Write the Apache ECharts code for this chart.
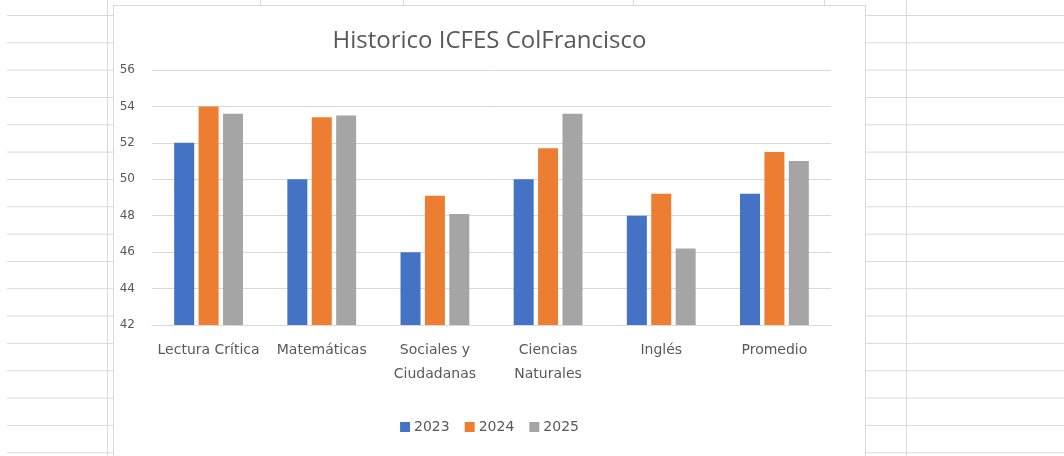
<!DOCTYPE html>
<html>
<head>
<meta charset="utf-8">
<script src="https://cdn.jsdelivr.net/npm/echarts@6/dist/echarts.min.js"></script>
<style>
  html, body { margin: 0; padding: 0; width: 1064px; height: 456px; overflow: hidden; background: #fff; }
  #sheet { position: absolute; left: 7px; top: 0; width: 1057px; height: 456px;
    background-image: linear-gradient(to bottom, #d9d9d9 0, #d9d9d9 1px, transparent 1px);
    background-size: 100% 27.33px; background-position: 0 15px; }
  .vline { position: absolute; top: 0; width: 1px; height: 456px; background: #d9d9d9; }
  #box { position: absolute; left: 113px; top: 5px; width: 753px; height: 460px; box-sizing: border-box;
    border: 1px solid #d9d9d9; background: #fff; }
  #chart { position: absolute; left: 0; top: 0; width: 751px; height: 458px; }
</style>
</head>
<body>
<div id="sheet"></div>
<div class="vline" style="left:107px"></div>
<div class="vline" style="left:260px"></div>
<div class="vline" style="left:403px"></div>
<div class="vline" style="left:633px"></div>
<div class="vline" style="left:824px"></div>
<div class="vline" style="left:906px"></div>
<div id="box"><div id="chart"></div></div>
<script>
const categories = ['Lectura Crítica', 'Matemáticas', 'Sociales y\nCiudadanas', 'Ciencias\nNaturales', 'Inglés', 'Promedio'];
const seriesNames = ['2023', '2024', '2025'];
const values2023 = [52.0, 50.0, 46.0, 50.0, 48.0, 49.2];
const values2024 = [54.0, 53.4, 49.1, 51.7, 49.2, 51.5];
const values2025 = [53.6, 53.5, 48.1, 53.6, 46.2, 51.0];
const colors = ['#4472C4', '#ED7D31', '#A5A5A5'];
const yMin = 42, yMax = 56, yStep = 2;

const labelFont = '"DejaVu Sans", sans-serif';
const titleFont = '"Open Sans", sans-serif';
const chart = echarts.init(document.getElementById('chart'));
const allValues = [values2023, values2024, values2025];
chart.setOption({
  animation: false,
  color: colors,
  textStyle: { fontFamily: labelFont },
  title: {
    text: 'Historico ICFES ColFrancisco',
    left: 'center', top: 18,
    textStyle: { fontFamily: titleFont, fontSize: 24, fontWeight: 'normal', color: '#595959' }
  },
  legend: {
    data: seriesNames,
    top: 409, left: 'center',
    itemWidth: 10, itemHeight: 10, itemGap: 15,
    icon: 'rect',
    textStyle: { fontFamily: labelFont, fontSize: 14, color: '#595959', padding: [0, 0, 0, -1] }
  },
  grid: { left: 38, right: 34, top: 64, bottom: 139, containLabel: false },
  xAxis: {
    type: 'category', data: categories,
    axisLine: { lineStyle: { color: '#D9D9D9', width: 1 } },
    axisTick: { show: false },
    axisLabel: { interval: 0, color: '#595959', fontFamily: labelFont, fontSize: 14, margin: 13, lineHeight: 24 }
  },
  yAxis: {
    type: 'value', min: yMin, max: yMax, interval: yStep,
    axisLine: { show: false }, axisTick: { show: false },
    splitLine: { lineStyle: { color: '#D9D9D9', width: 1 } },
    axisLabel: { color: '#595959', fontFamily: labelFont, fontSize: 12, margin: 17 }
  },
  series: seriesNames.map((n, i) => ({
    name: n, type: 'bar', data: allValues[i],
    barWidth: 20, barGap: '22%',
    itemStyle: { color: colors[i] }
  }))
});
</script>
</body>
</html>
